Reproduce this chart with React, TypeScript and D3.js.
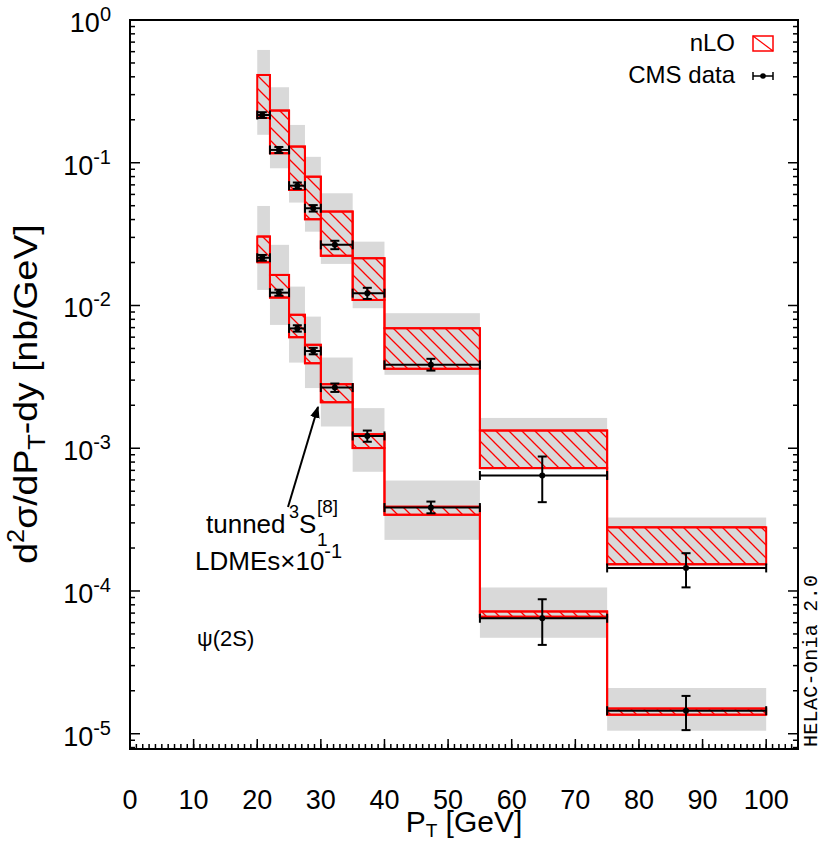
import React from 'react';
import * as d3 from 'd3';

// ---------------- data ----------------
const binEdges = [20, 22, 25, 27.5, 30, 35, 40, 55, 75, 100];

// nLO (upper set, default LDMEs)
const nloUpperHi = [0.412, 0.232, 0.1297, 0.0799, 0.0455, 0.02144, 0.00693, 0.00133, 0.000279];
const nloUpperLo = [0.206, 0.1166, 0.0645, 0.0402, 0.0223, 0.01094, 0.0036, 0.000726, 0.000154];
const bandUpperHi = [0.617, 0.338, 0.184, 0.11, 0.0611, 0.028, 0.00883, 0.00163, 0.000327];
const bandUpperLo = [0.157, 0.0915, 0.0526, 0.0329, 0.01956, 0.00957, 0.00327, 0.000705, 0.000149];

// nLO (lower set, tuned 3S1[8] LDMEs x 10^-1)
const nloLowerHi = [0.0304, 0.01638, 0.0086, 0.0053, 0.00281, 0.001255, 0.000389, 7.19e-5, 1.5e-5];
const nloLowerLo = [0.0201, 0.01136, 0.006, 0.00394, 0.0021, 0.001002, 0.000342, 6.6e-5, 1.36e-5];
const bandLowerHi = [0.0498, 0.0266, 0.01356, 0.00836, 0.00432, 0.00191, 0.000594, 1.058e-4, 2.09e-5];
const bandLowerLo = [0.01286, 0.00731, 0.00398, 0.00264, 0.00142, 0.000684, 0.000228, 4.7e-5, 1.05e-5];

// CMS data
const dataPt = [20.8, 23.4, 26.3, 28.8, 32.2, 37.3, 47.3, 64.8, 87.4];
const dataUpper = [0.216, 0.123, 0.0691, 0.048, 0.0266, 0.0122, 0.00384, 0.000644, 0.000145];
const dataUpperErrHi = [0.226, 0.129, 0.0727, 0.0505, 0.0284, 0.0133, 0.00423, 0.000875, 0.000184];
const dataUpperErrLo = [0.206, 0.117, 0.0656, 0.0455, 0.0248, 0.0111, 0.0035, 0.000419, 0.000106];
const dataLower = [0.0216, 0.0123, 0.00691, 0.0048, 0.00266, 0.00122, 0.000384, 6.44e-5, 1.45e-5];
const dataLowerErrHi = [0.0226, 0.0129, 0.00727, 0.00505, 0.00284, 0.00133, 0.000423, 8.75e-5, 1.84e-5];
const dataLowerErrLo = [0.0206, 0.0117, 0.00656, 0.00455, 0.00248, 0.00111, 0.00035, 4.19e-5, 1.06e-5];

const xMajorTicks = [0, 10, 20, 30, 40, 50, 60, 70, 80, 90, 100];
const yDecadeExps = [0, -1, -2, -3, -4, -5];

// ---------------- layout ----------------
const W = 822;
const H = 842;
const L = 130, R = 798, T = 20, B = 749;
const RED = '#ff0000';
const GRAY = '#d9d9d9';
const FONT = '"Liberation Sans", Arial, Helvetica, sans-serif';

const x = d3.scaleLinear().domain([0, 105]).range([L, R]);
const y = d3.scaleLog().domain([Math.pow(10, -5.107), 1]).range([B, T]);

type SetProps = { hi: number[]; lo: number[]; };

function Bands({ hi, lo }: SetProps) {
  return (
    <g>
      {hi.map((h, i) => (
        <rect key={i} x={x(binEdges[i])} y={y(h)} width={x(binEdges[i + 1]) - x(binEdges[i])}
          height={y(lo[i]) - y(h)} fill={GRAY} />
      ))}
    </g>
  );
}

function Nlo({ hi, lo }: SetProps) {
  const step = d3.line<[number, number]>().x(d => x(d[0])).y(d => y(d[1])).curve(d3.curveStepAfter);
  const topPts: [number, number][] = hi.map((v, i) => [binEdges[i], v] as [number, number]);
  topPts.push([binEdges[binEdges.length - 1], hi[hi.length - 1]]);
  const botPts: [number, number][] = lo.map((v, i) => [binEdges[i], v] as [number, number]);
  botPts.push([binEdges[binEdges.length - 1], lo[lo.length - 1]]);
  return (
    <g>
      {hi.map((h, i) => (
        <rect key={i} x={x(binEdges[i])} y={y(h)} width={x(binEdges[i + 1]) - x(binEdges[i])}
          height={y(lo[i]) - y(h)} fill="url(#hatch)" stroke={RED} strokeWidth={2} />
      ))}
      <path d={step(topPts) || ''} fill="none" stroke={RED} strokeWidth={2} />
      <path d={step(botPts) || ''} fill="none" stroke={RED} strokeWidth={2} />
    </g>
  );
}

function DataPoints({ v, hi, lo }: { v: number[]; hi: number[]; lo: number[] }) {
  return (
    <g stroke="#000" strokeWidth={2}>
      {v.map((val, i) => {
        const x0 = x(binEdges[i]), x1 = x(binEdges[i + 1]);
        const xc = x(dataPt[i]);
        const yc = y(val);
        const yh = y(hi[i]), yl = y(lo[i]);
        return (
          <g key={i}>
            <line x1={x0} x2={x1} y1={yc} y2={yc} />
            <line x1={x0} x2={x0} y1={yc - 4.5} y2={yc + 4.5} />
            <line x1={x1} x2={x1} y1={yc - 4.5} y2={yc + 4.5} />
            <line x1={xc} x2={xc} y1={yh} y2={yl} />
            <line x1={xc - 4.5} x2={xc + 4.5} y1={yh} y2={yh} />
            <line x1={xc - 4.5} x2={xc + 4.5} y1={yl} y2={yl} />
            <circle cx={xc} cy={yc} r={3} fill="#000" stroke="none" />
          </g>
        );
      })}
    </g>
  );
}

function Axes() {
  const xMinor = d3.range(0, 106, 1);
  const yMinor: number[] = [];
  for (let e = -6; e <= 0; e++) {
    for (let k = 2; k <= 9; k++) {
      const v = k * Math.pow(10, e);
      if (v > y.domain()[0] && v < 1) yMinor.push(v);
    }
  }
  return (
    <g stroke="#000" strokeWidth={1.5}>
      {xMinor.map(t => (
        <line key={'xm' + t} x1={x(t)} x2={x(t)} y1={B} y2={B - 5} />
      ))}
      {xMajorTicks.map(t => (
        <line key={'xM' + t} x1={x(t)} x2={x(t)} y1={B} y2={B - 10} />
      ))}
      {yMinor.map((v, i) => (
        <g key={'ym' + i}>
          <line x1={L} x2={L + 5} y1={y(v)} y2={y(v)} />
          <line x1={R} x2={R - 5} y1={y(v)} y2={y(v)} />
        </g>
      ))}
      {yDecadeExps.map(e => (
        <g key={'yM' + e}>
          <line x1={L} x2={L + 10} y1={y(Math.pow(10, e))} y2={y(Math.pow(10, e))} />
          <line x1={R} x2={R - 10} y1={y(Math.pow(10, e))} y2={y(Math.pow(10, e))} />
        </g>
      ))}
      <rect x={L} y={T} width={R - L} height={B - T} fill="none" strokeWidth={2} />
    </g>
  );
}

export default function App() {
  return (
    <svg width={W} height={H} viewBox={`0 0 ${W} ${H}`}
      style={{ position: 'absolute', left: 0, top: 0, background: '#fff' }}
      fontFamily={FONT}>
      <defs>
        <pattern id="hatch" patternUnits="userSpaceOnUse" width={13} height={13}>
          <path d="M0,0 L13,13 M-3,10 L3,16 M10,-3 L16,3" stroke={RED} strokeWidth={1.3} />
        </pattern>
        <marker id="arrowhead" viewBox="0 0 10 10" refX={9} refY={5} markerWidth={12} markerHeight={12}
          markerUnits="userSpaceOnUse" orient="auto">
          <path d="M0,1 L10,5 L0,9 z" fill="#000" />
        </marker>
      </defs>
      <rect x={0} y={0} width={W} height={H} fill="#fff" />

      <Bands hi={bandUpperHi} lo={bandUpperLo} />
      <Bands hi={bandLowerHi} lo={bandLowerLo} />
      <Nlo hi={nloUpperHi} lo={nloUpperLo} />
      <Nlo hi={nloLowerHi} lo={nloLowerLo} />
      <DataPoints v={dataUpper} hi={dataUpperErrHi} lo={dataUpperErrLo} />
      <DataPoints v={dataLower} hi={dataLowerErrHi} lo={dataLowerErrLo} />

      <Axes />

      {/* tick labels */}
      <g fontSize={27} fill="#000">
        {xMajorTicks.map(t => (
          <text key={t} x={x(t)} y={809} textAnchor="middle">{t}</text>
        ))}
        {yDecadeExps.map(e => (
          <text key={e} x={111} y={y(Math.pow(10, e)) + 12} textAnchor="end">
            10<tspan fontSize={20} dy={-11}>{e === 0 ? '0' : `-${-e}`}</tspan>
          </text>
        ))}
      </g>

      {/* axis titles */}
      <text x={464} y={832} textAnchor="middle" fontSize={30}>
        P<tspan fontSize={19} dy={5}>T</tspan><tspan dy={-5}> [GeV]</tspan>
      </text>
      <text transform={`translate(37, 394) rotate(-90) scale(1.1, 1)`} textAnchor="middle" fontSize={34}>
        d<tspan fontSize={23} dy={-13}>2</tspan><tspan dy={13}>σ/dP</tspan><tspan fontSize={23} dy={8}>T</tspan><tspan dy={-8}>-dy [nb/GeV]</tspan>
      </text>

      {/* legend */}
      <text x={735} y={51} textAnchor="end" fontSize={24}>nLO</text>
      <rect x={753} y={36} width={20} height={15} fill="#fff" stroke={RED} strokeWidth={1.5} />
      <line x1={753} y1={36} x2={773} y2={51} stroke={RED} strokeWidth={1.3} />
      <text x={735} y={83} textAnchor="end" fontSize={24}>CMS data</text>
      <g stroke="#000" strokeWidth={1.5}>
        <line x1={753} x2={773} y1={76} y2={76} />
        <line x1={753} x2={753} y1={72} y2={80} />
        <line x1={773} x2={773} y1={72} y2={80} />
      </g>
      <circle cx={763} cy={76} r={2.8} fill="#000" />

      {/* annotation */}
      <line x1={288} y1={507} x2={318} y2={407} stroke="#000" strokeWidth={2} markerEnd="url(#arrowhead)" />
      <text x={206} y={533} fontSize={26}>tunned</text>
      <text x={289} y={518} fontSize={18}>3</text>
      <text x={299} y={533} fontSize={26}>S</text>
      <text x={317} y={546} fontSize={19}>1</text>
      <text x={317} y={513} fontSize={19}>[8]</text>
      <text x={195} y={570} fontSize={26}>
        LDMEs×10<tspan fontSize={20} dy={-12}>-1</tspan>
      </text>
      <text x={197} y={646} fontSize={22}>ψ(2S)</text>

      {/* generator stamp */}
      <text transform="translate(817, 661) rotate(-90)" textAnchor="middle" fontSize={20}
        textLength={172} lengthAdjust="spacing"
        fontFamily='"Liberation Mono", "DejaVu Sans Mono", monospace'>HELAC-Onia 2.0</text>
    </svg>
  );
}
